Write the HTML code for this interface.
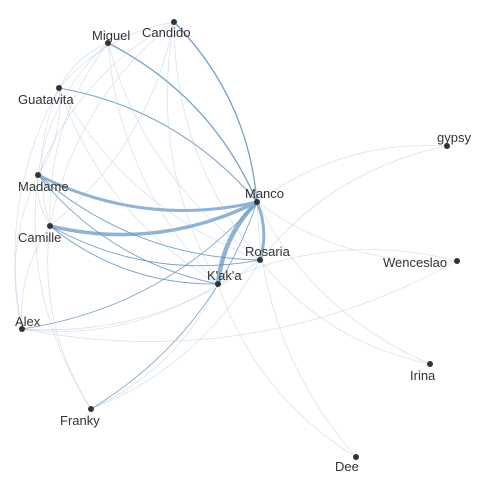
<!DOCTYPE html>
<html><head><meta charset="utf-8"><style>
html,body{margin:0;padding:0;background:#fff;}
svg{display:block;}
text{font-family:"Liberation Sans",sans-serif;font-size:13px;fill:#333;}
</style></head><body>
<svg id="chart" width="480" height="480">
<g id="edges"></g>
<g id="nodes"></g>
</svg>
<script>
const nodeNames = ["Candido","Miguel","Guatavita","gypsy","Madame","Manco","Camille","Rosaria","Wenceslao","K'ak'a","Alex","Irina","Franky","Dee"];
const nodeX = [174,108,59,447,38,257,50,260,457,218,22,430,91,356];
const nodeY = [22,43,88,146,175,202,226,260,261,284,329,364,409,457];
const labelDx = [-32,-16,-41,-10,-20,-12,-32,-15,-74,-11,-7,-20,-31,-21];
const labelDy = [15,-3,16,-4,16,-4,16,-4,6,-4,-3,16,16,14];
const edgeSrc = ["Madame","Camille","Manco","Rosaria","Manco","Manco","Manco","Madame","Madame","Camille","Camille","Alex","Franky","Candido","Miguel","Guatavita","Guatavita","Miguel","Candido","Madame","Camille","Alex","Franky","Candido","Miguel","Guatavita","Madame","Camille","gypsy","Manco","Manco","Manco","gypsy","Rosaria","K'ak'a","Wenceslao","Candido","Miguel","Guatavita","Madame","Alex","Franky","Camille","Miguel","Candido","Alex","Madame"];
const edgeTgt = ["Manco","Manco","K'ak'a","Manco","Miguel","Candido","Guatavita","K'ak'a","Rosaria","K'ak'a","Rosaria","Manco","Manco","K'ak'a","K'ak'a","K'ak'a","Rosaria","Rosaria","Rosaria","Alex","Franky","K'ak'a","Rosaria","Madame","Camille","Camille","Franky","Alex","Manco","Wenceslao","Irina","Dee","Rosaria","Irina","Dee","K'ak'a","Camille","Madame","Alex","Camille","Rosaria","K'ak'a","Candido","Guatavita","Guatavita","Wenceslao","Guatavita"];
const edgeW = [3,3.5,4.5,3,1.3,1.3,1,0.9,0.9,0.9,0.9,0.8,0.8,0.5,0.5,0.4,0.4,0.3,0.3,0.3,0.3,0.3,0.3,0.3,0.3,0.3,0.3,0.3,0.3,0.3,0.5,0.3,0.3,0.3,0.3,0.3,0.3,0.3,0.3,0.3,0.3,0.3,0.3,0.3,0.3,0.3,0.3];
const NS="http://www.w3.org/2000/svg";
const eg=document.getElementById('edges'), ng=document.getElementById('nodes');
function pos(n){const i=nodeNames.indexOf(n);return [nodeX[i],nodeY[i]];}
for(let k=0;k<edgeSrc.length;k++){
  const [x1,y1]=pos(edgeSrc[k]),[x2,y2]=pos(edgeTgt[k]);
  const dx=x2-x1,dy=y2-y1;
  const cx=(x1+x2)/2-dy*0.18,cy=(y1+y2)/2+dx*0.18;
  const p=document.createElementNS(NS,'path');
  p.setAttribute('d',`M${x1},${y1}Q${cx},${cy} ${x2},${y2}`);
  const w=edgeW[k];
  p.setAttribute('fill','none');
  p.setAttribute('stroke', w>=2?'#8aafd2':(w>=0.7?'#5f8fbf':'#a9c2da'));
  p.setAttribute('stroke-opacity', w>=2?0.95:(w>=0.7?0.85:0.5));
  p.setAttribute('stroke-width', w<0.7?0.7:w);
  
  
  eg.appendChild(p);
}
for(let i=0;i<nodeNames.length;i++){
  const c=document.createElementNS(NS,'circle');
  c.setAttribute('cx',nodeX[i]);c.setAttribute('cy',nodeY[i]);c.setAttribute('r',3);c.setAttribute('fill','#333');
  
  
  ng.appendChild(c);
  const t=document.createElementNS(NS,'text');
  t.setAttribute('x',nodeX[i]+labelDx[i]);t.setAttribute('y',nodeY[i]+labelDy[i]);
  t.textContent=nodeNames[i];
  
  
  ng.appendChild(t);
}
</script>
</body></html>
